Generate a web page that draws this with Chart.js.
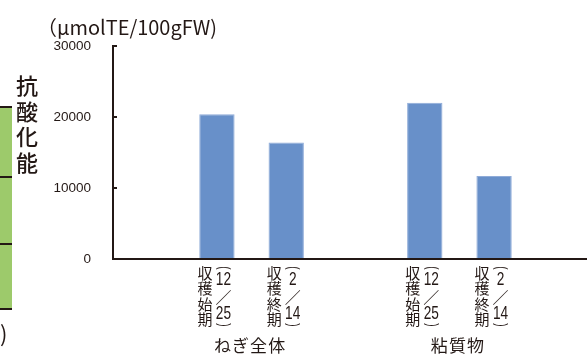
<!DOCTYPE html>
<html>
<head>
<meta charset="utf-8">
<script src="https://cdn.jsdelivr.net/npm/chart.js@4.4.1/dist/chart.umd.min.js"></script>
<style>
html, body { margin: 0; padding: 0; background: #fff; overflow: hidden; }
</style>
</head>
<body>
<canvas id="chart" width="600" height="354"></canvas>
<script>
// empty slots keep the gaps between and around the two groups
const categories = ["", "ねぎ全体/収穫始期", "ねぎ全体/収穫終期", "", "粘質物/収穫始期", "粘質物/収穫終期", ""];
const values = [null, 20400, 16400, null, 22000, 11700, null];
const stages = ["収穫始期", "収穫終期"];
const stageDates = [["12", "25"], ["2", "14"]];
const yTicks = [0, 10000, 20000, 30000];
const unitLabel = "（μmolTE/100gFW)";
const axisTitle = ["抗", "酸", "化", "能"];

const ink = "#231815";
const jp = "'Noto Sans CJK JP', sans-serif";
const latin = "'Liberation Sans', Arial, sans-serif";

// draw text squeezed horizontally by sx (and optionally rotated), centred on (x, y)
const squash = (ctx, text, x, y, sx, font, rot = 0) => {
    ctx.save();
    ctx.font = font;
    ctx.translate(x, y);
    ctx.rotate(rot);
    ctx.scale(sx, 1);
    ctx.textAlign = "center";
    ctx.textBaseline = "middle";
    ctx.fillText(text, 0, 0);
    ctx.restore();
}

const decor = {
    id: "decor",
    afterDraw(chart) {
        const { ctx, scales: { x, y } } = chart;
        ctx.save();
        ctx.fillStyle = ink;
        ctx.strokeStyle = ink;

        // small ticks pointing into the plot
        ctx.lineWidth = 2;
        for (const v of yTicks) {
            if (v === 0) continue;
            const py = Math.round(y.getPixelForValue(v));
            ctx.beginPath();
            ctx.moveTo(x.left, py);
            ctx.lineTo(x.left + 4, py);
            ctx.stroke();
        }

        // vertical category labels and group names
        const groupPos = {};
        categories.forEach((c, i) => {
            if (!c) return;
            const [group, stage] = c.split("/");
            const cx = x.getPixelForValue(i);
            const base = y.bottom;
            const dates = stageDates[stages.indexOf(stage)];

            ctx.font = "15px " + jp;
            ctx.textAlign = "center";
            ctx.textBaseline = "middle";
            [...stage].forEach((ch, k) => ctx.fillText(ch, cx - 12, base + 14 + k * 15.5));

            const c2 = cx + 6.5;
            squash(ctx, "(", c2, base + 9, 0.6, "17px " + latin, Math.PI / 2);
            squash(ctx, dates[0], c2, base + 21, 0.72, "19px " + latin);
            squash(ctx, "／", c2, base + 38, 1, "16px " + jp);
            squash(ctx, dates[1], c2, base + 55, 0.72, "19px " + latin);
            squash(ctx, ")", c2, base + 66, 0.6, "17px " + latin, Math.PI / 2);

            (groupPos[group] = groupPos[group] || []).push(cx);
        });
        for (const [group, xs] of Object.entries(groupPos)) {
            const mid = xs.reduce((a, b) => a + b, 0) / xs.length;
            ctx.font = "17px " + jp;
            ctx.textAlign = "center";
            ctx.textBaseline = "middle";
            ctx.fillText([...group].join("\u200a"), mid - 2, 346);
        }

        // unit label above the axis, fitted to its width
        ctx.font = "20px " + jp;
        const w = ctx.measureText(unitLabel).width;
        ctx.save();
        ctx.translate(37, 27);
        ctx.scale(180 / w, 1);
        ctx.textAlign = "left";
        ctx.textBaseline = "middle";
        ctx.fillText(unitLabel, 0, 0);
        ctx.restore();

        // stacked axis title
        ctx.font = "500 22px " + jp;
        ctx.textAlign = "center";
        ctx.textBaseline = "middle";
        axisTitle.forEach((ch, k) => ctx.fillText(ch, 27, 86 + k * 25.5));

        // piece of the neighbouring figure on the left edge
        ctx.fillStyle = "#9dca6b";
        ctx.fillRect(0, 107, 12, 202);
        ctx.lineWidth = 2;
        for (const ly of [107, 177, 244, 309]) {
            ctx.beginPath();
            ctx.moveTo(0, ly);
            ctx.lineTo(12, ly);
            ctx.stroke();
        }
        ctx.fillStyle = ink;
        ctx.font = "22px " + jp;
        ctx.textAlign = "left";
        ctx.fillText(")", 0, 334);

        ctx.restore();
    }
};

new Chart(document.getElementById("chart"), {
    type: "bar",
    data: {
        labels: categories,
        datasets: [{
            data: values,
            backgroundColor: "#6890c9",
            borderColor: "#8fabd8",
            borderWidth: 1,
            barPercentage: 0.51,
            categoryPercentage: 1
        }]
    },
    options: {
        responsive: false,
        animation: false,
        devicePixelRatio: 1,
        layout: { padding: { left: 0, top: 46, right: 2, bottom: 0 } },
        plugins: { legend: { display: false }, tooltip: { enabled: false } },
        scales: {
            x: {
                grid: { display: false },
                border: { color: ink, width: 2, z: 1 },
                ticks: { display: false },
                afterFit: s => { s.height = 95; }
            },
            y: {
                min: 0,
                max: 30000,
                afterBuildTicks: s => { s.ticks = yTicks.map(v => ({ value: v })); },
                grid: { display: false },
                border: { color: ink, width: 2, z: 1 },
                ticks: {
                    padding: 14,
                    color: ink,
                    callback: v => String(v),
                    font: { family: latin, size: 13.5 }
                },
                afterFit: s => { s.width = 113; }
            }
        }
    },
    plugins: [decor]
});
</script>
</body>
</html>
